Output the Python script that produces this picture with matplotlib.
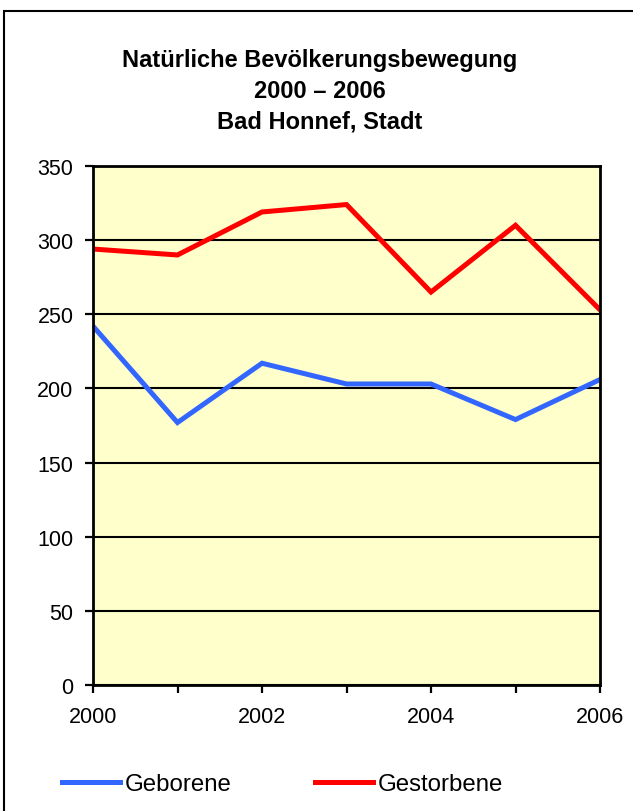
import matplotlib.pyplot as plt
from matplotlib.patches import Rectangle

plt.rcParams['font.family'] = ['Liberation Sans', 'DejaVu Sans']

# Natural population change, Bad Honnef
jahre = [2000, 2001, 2002, 2003, 2004, 2005, 2006]
geborene = [242, 177, 217, 203, 203, 179, 206]
gestorbene = [294, 290, 319, 324, 265, 310, 253]
title_lines = ["Natürliche Bevölkerungsbewegung", "2000 – 2006", "Bad Honnef, Stadt"]

W, H = 633, 812
fig = plt.figure(figsize=(W / 100, H / 100), dpi=100)
fig.patch.set_facecolor('white')

# outer frame of the chart
fig.patches.append(Rectangle((4 / W, -0.05), 1.1, 1 - 12 / H + 0.05,
                             transform=fig.transFigure, fill=False,
                             edgecolor='black', linewidth=1.5))

ax = fig.add_axes([93 / W, 1 - 686 / H, (600 - 93) / W, (686 - 167) / H])
ax.set_facecolor('#FFFFCC')

ax.plot(jahre, geborene, color='#3366FF', linewidth=3.6, label='Geborene',
        solid_joinstyle='miter')
ax.plot(jahre, gestorbene, color='#FF0000', linewidth=3.6, label='Gestorbene',
        solid_joinstyle='miter')

ax.set_xlim(2000, 2006)
ax.set_ylim(0, 350)
ax.set_xticks(jahre)
ax.set_xticklabels([str(j) if j % 2 == 0 else '' for j in jahre])
ax.set_yticks(range(0, 351, 50))
ax.yaxis.grid(True, color='black', linewidth=1.5)
ax.set_axisbelow(True)
for s in ax.spines.values():
    s.set_linewidth(2)
    s.set_color('black')
ax.tick_params(axis='both', direction='out', length=6, width=1.6,
               labelsize=15.5, colors='black')
ax.tick_params(axis='x', pad=9)
ax.tick_params(axis='y', pad=8)

ys = [60, 91, 122]
for t, y in zip(title_lines, ys):
    fig.text(320 / W, 1 - y / H, t, ha='center', va='center',
             fontsize=17, fontweight='bold')

fig.legend(loc='center left', bbox_to_anchor=(62 / W, 1 - 785 / H), ncol=2,
           frameon=False, fontsize=17.3, handlelength=2.4, handletextpad=0.2,
           columnspacing=3.5, borderpad=0, borderaxespad=0)

fig.savefig('out.png', dpi=100)
